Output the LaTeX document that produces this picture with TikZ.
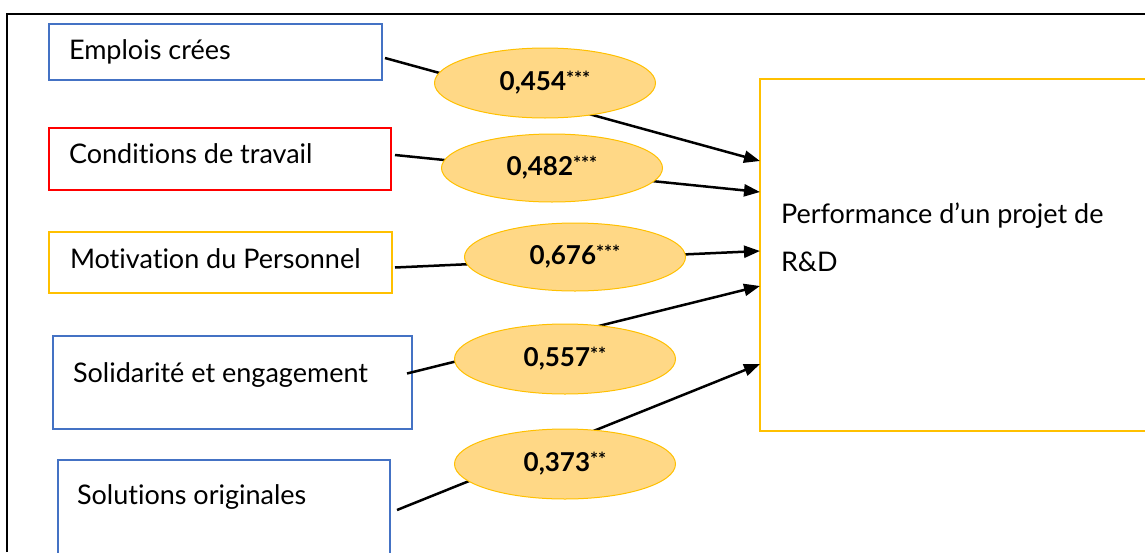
\documentclass[tikz,border=0pt]{standalone}
\usepackage{fontspec}
\setmainfont{Lato}[Ligatures={NoCommon}]
\usepackage{tikz}
\usetikzlibrary{positioning,shapes.geometric,arrows.meta}
\definecolor{ink}{HTML}{000000}
\definecolor{boxblue}{HTML}{4472C4}
\definecolor{boxred}{HTML}{FF0000}
\definecolor{boxgold}{HTML}{FFC000}
\definecolor{coeffill}{HTML}{FFD886}
\tikzset{
  factor/.style  = {draw, line width=1.6pt, fill=white, inner sep=0pt, outer sep=0pt, anchor=north west},
  factlab/.style = {font=\fontsize{27}{30}\selectfont\color{ink}, anchor=base west, inner sep=0pt, outer sep=0pt},
  coef/.style    = {ellipse, draw=boxgold, fill=coeffill, line width=1pt, minimum width=221pt, minimum height=70pt, inner sep=0pt, font=\fontsize{26}{28}\selectfont\bfseries\color{ink}},
  link/.style    = {-{Triangle[length=16pt,width=12pt]}, draw=ink, line width=2.5pt},
}
\newcommand{\sig}[1]{\raisebox{5pt}{\fontsize{19}{19}\selectfont\bfseries #1}}

\begin{document}
\begin{tikzpicture}[x=1pt,y=-1pt]
\path[use as bounding box] (0,0) rectangle (1145,552);

% ---- outer frame --------------------------------------------------------
\draw[ink, line width=1.7pt] (7,552) -- (7,14) -- (1150,14);

% ---- the five factors ---------------------------------------------------
\node[factor, draw=boxblue, minimum width=333pt, minimum height=56pt] (emplois) at (49,24) {};
\node[factlab] (emploislab) at (69,59) {Emplois crées};

\node[factor, draw=boxred, minimum width=342pt, minimum height=62pt] (conditions) at (49,128) {};
\node[factlab] (conditionslab) at (69,163) {Conditions de travail};

\node[factor, draw=boxgold, minimum width=343pt, minimum height=61pt] (motivation) at (49,232) {};
\node[factlab] (motivationlab) at (70,268) {Motivation du Personnel};

\node[factor, draw=boxblue, minimum width=359pt, minimum height=93pt] (solidarite) at (53,336) {};
\node[factlab] (solidaritelab) at (73,382) {Solidarité et engagement};

\node[factor, draw=boxblue, minimum width=332pt, minimum height=110pt] (solutions) at (58,460) {};
\node[factlab] (solutionslab) at (77,504) {Solutions originales};

% ---- the outcome --------------------------------------------------------
\node[factor, draw=boxgold, line width=2pt, minimum width=392pt, minimum height=352pt] (perf) at (760,79) {};
\node[factlab] (perflab) at (781,223) {Performance d’un projet de};
\node[factlab] (perflabii) at (781,271) {R\&D};

% ---- paths --------------------------------------------------------------
\draw[link] ([shift={(3,6)}]emplois.east)     -- ([yshift=94pt]perf.west);
\draw[link] ([shift={(4,-4)}]conditions.east) -- ([yshift=63pt]perf.west);
\draw[link] ([shift={(3,5)}]motivation.east)  -- ([yshift=4pt]perf.west);
\draw[link] ([shift={(-5,-9)}]solidarite.east) -- ([yshift=-31pt]perf.west);
\draw[link] ([shift={(7,-5)}]solutions.east)  -- ([yshift=-109pt]perf.west);

% ---- coefficients -------------------------------------------------------
\node[coef] (c454) at (545,83)  {0,454\sig{***}};
\node[coef, minimum height=68pt] (c482) at (552,168) {0,482\sig{***}};
\node[coef, minimum height=68pt] (c676) at (575,257) {0,676\sig{***}};
\node[coef] (c557) at (565,359) {0,557\sig{**}};
\node[coef] (c373) at (565,464) {0,373\sig{**}};

\end{tikzpicture}
\end{document}
